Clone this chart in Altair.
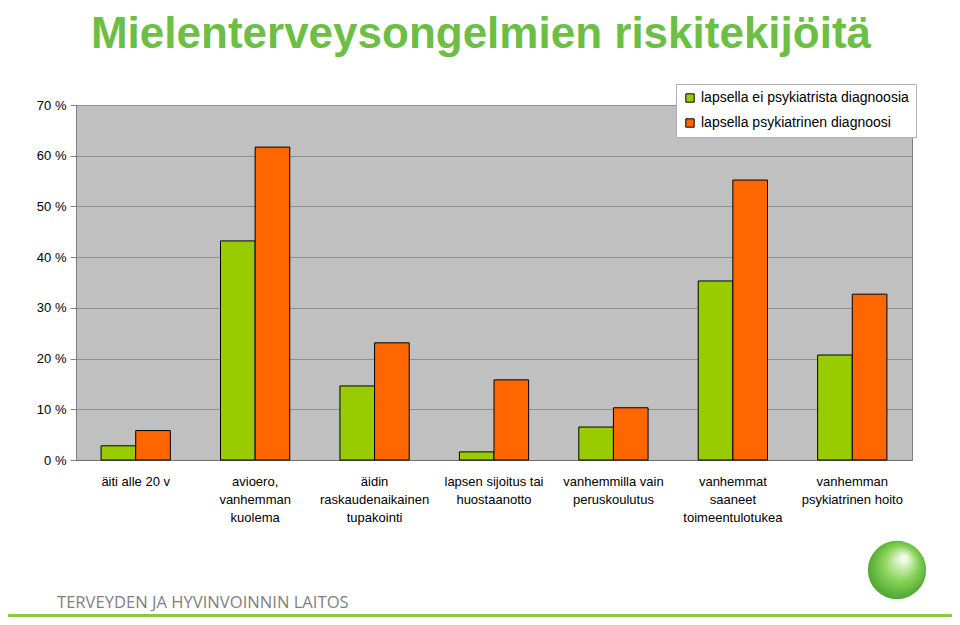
import altair as alt
import pandas as pd

categories = [
    "äiti alle 20 v",
    "avioero,|vanhemman|kuolema",
    "äidin|raskaudenaikainen|tupakointi",
    "lapsen sijoitus tai|huostaanotto",
    "vanhemmilla vain|peruskoulutus",
    "vanhemmat|saaneet|toimeentulotukea",
    "vanhemman|psykiatrinen hoito",
]
series = ["lapsella ei psykiatrista diagnoosia", "lapsella psykiatrinen diagnoosi"]
no_diagnosis = [2.8, 43.2, 14.6, 1.6, 6.5, 35.3, 20.7]
diagnosis = [5.8, 61.7, 23.1, 15.8, 10.3, 55.2, 32.7]
colors = ["#99CC00", "#FF6600"]
y_ticks = [0, 10, 20, 30, 40, 50, 60, 70]
title_text = "Mielenterveysongelmien riskitekijöitä"
footer_text = "TERVEYDEN JA HYVINVOINNIN LAITOS"

rows = []
for c, a, b in zip(categories, no_diagnosis, diagnosis):
    rows.append({"kategoria": c, "sarja": series[0], "arvo": a})
    rows.append({"kategoria": c, "sarja": series[1], "arvo": b})
df = pd.DataFrame(rows)

W, H = 836, 355

bars = alt.Chart(df).mark_bar(stroke="black", strokeWidth=1).encode(
    x=alt.X(
        "kategoria:N",
        sort=categories,
        scale=alt.Scale(paddingInner=0.42, paddingOuter=0.21),
        axis=alt.Axis(
            title=None,
            labelAngle=0,
            labelExpr="split(datum.label, '|')",
            labelFontSize=13,
            labelFont="Liberation Sans",
            labelColor="black",
            labelLineHeight=18,
            labelPadding=15,
            ticks=False,
            domainColor="#707070",
            labelLimit=200,
        ),
    ),
    xOffset=alt.XOffset("sarja:N", sort=series),
    y=alt.Y(
        "arvo:Q",
        scale=alt.Scale(domain=[0, 70], nice=False),
        axis=alt.Axis(
            title=None,
            values=y_ticks,
            labelExpr="datum.value + ' %'",
            labelFontSize=13,
            labelFont="Liberation Sans",
            labelColor="black",
            tickSize=6,
            tickColor="#808080",
            labelPadding=4,
            gridColor="#8F8F8F",
            gridWidth=1,
            domain=False,
        ),
    ),
    color=alt.Color(
        "sarja:N",
        sort=series,
        scale=alt.Scale(domain=series, range=colors),
        legend=alt.Legend(
            title=None,
            orient="none",
            legendX=600,
            legendY=-21,
            fillColor="white",
            strokeColor="#B0B0B0",
            padding=7,
            symbolType="square",
            symbolSize=70,
            symbolStrokeColor="black",
            symbolStrokeWidth=1,
            labelFontSize=14,
            labelFont="Liberation Sans",
            labelColor="black",
            rowPadding=11,
            labelLimit=300,
        ),
    ),
)

footer = alt.Chart(pd.DataFrame({"t": [footer_text]})).mark_text(
    align="left", baseline="alphabetic", fontSize=16.6, font="Open Sans", color="#7F7F7F"
).encode(text="t:N", x=alt.value(-19), y=alt.value(503))

bottom_line = alt.Chart(pd.DataFrame({"t": [1]})).mark_rule(
    color="#8DC63F", strokeWidth=3
).encode(x=alt.value(-68), x2=alt.value(W + 40), y=alt.value(510.5))

globe = alt.Chart(pd.DataFrame({"t": [1]})).mark_point(
    filled=True,
    shape="circle",
    size=3400,
    opacity=1,
    color=alt.RadialGradient(
        gradient="radial",
        x1=0.62, y1=0.3, r1=0.05,
        x2=0.5, y2=0.5, r2=0.6,
        stops=[
            alt.GradientStop(offset=0, color="#F0FAE6"),
            alt.GradientStop(offset=0.45, color="#8AD35A"),
            alt.GradientStop(offset=1, color="#3A9A22"),
        ],
    ),
).encode(x=alt.value(821), y=alt.value(465))

chart = (
    alt.layer(bars, footer, bottom_line, globe)
    .properties(
        width=W,
        height=H,
        autosize=alt.AutoSizeParams(type="none"),
        padding={"left": 68, "top": 97, "right": 40, "bottom": 157},
        title=alt.TitleParams(
            text=title_text,
            fontSize=44,
            font="Liberation Sans",
            fontWeight="bold",
            color="#6DBE45",
            anchor="middle",
            frame="group",
            dx=-13,
            offset=27,
        ),
    )
    .configure_view(fill="#C0C0C0", stroke="#808080", strokeWidth=1)
)

chart.save("out.html", embed_options={"renderer": "svg", "actions": False})
